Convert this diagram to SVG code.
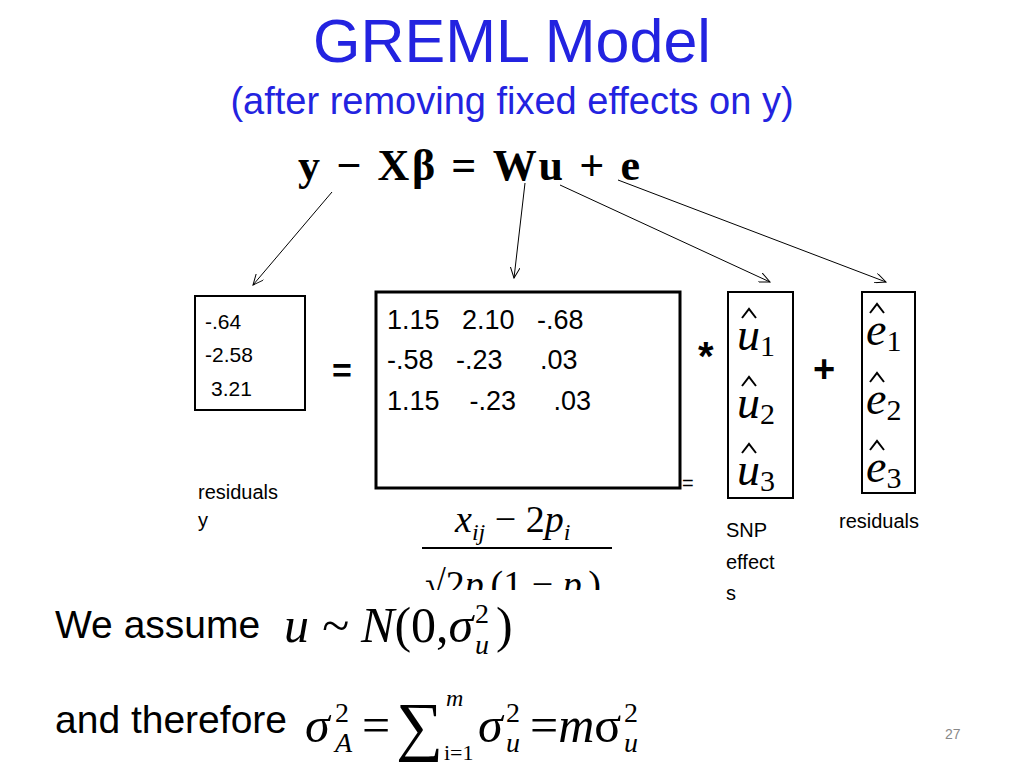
<svg xmlns="http://www.w3.org/2000/svg" width="1024" height="768" viewBox="0 0 1024 768">
<style>
.t{fill:#2323e0;font-family:"Liberation Sans",Arial,sans-serif;text-anchor:middle}
.s{font-family:"Liberation Sans",Arial,sans-serif;fill:#000}
.m{font-family:"Liberation Serif","Times New Roman",serif;font-style:italic;fill:#000}
.r{font-family:"Liberation Serif","Times New Roman",serif;fill:#000}
.box{fill:#fff;stroke:#000;stroke-width:2}
.hat{fill:none;stroke:#000;stroke-width:2}
.c line{stroke:#000;stroke-width:1;marker-end:url(#a)}
</style>
<defs><marker id="a" markerWidth="12" markerHeight="10" refX="11" refY="5" orient="auto" markerUnits="userSpaceOnUse"><path d="M0,0 L11,5 L0,10" fill="none" stroke="#000" stroke-width="1"/></marker></defs>
<rect width="1024" height="768" fill="#fff"/>
<text class="t" x="512" y="62" font-size="61">GREML Model</text>
<text class="t" x="512" y="114" font-size="38">(after removing fixed effects on y)</text>
<text class="r" x="298" y="180" font-size="44" font-weight="bold" textLength="342" lengthAdjust="spacing">y − Xβ = Wu + e</text>
<g class="c">
<line x1="332" y1="192" x2="253" y2="285"/>
<line x1="525" y1="183" x2="514" y2="278"/>
<line x1="560" y1="185" x2="770" y2="282"/>
<line x1="618" y1="180" x2="886" y2="282"/>
</g>
<g id="y">
<rect class="box" x="195" y="296" width="110" height="114"/>
<text class="s" x="205" y="329" font-size="21">-.64</text>
<text class="s" x="205" y="362" font-size="21">-2.58</text>
<text class="s" x="211" y="396" font-size="21">3.21</text>
<text class="s" x="198" y="499" font-size="20">residuals</text>
<text class="s" x="198" y="527" font-size="20">y</text>
</g>
<text class="s" x="332" y="382" font-size="34" font-weight="bold">=</text>
<g id="frac">
<text class="m" x="455" y="532" font-size="38">x<tspan font-size="24" dy="8">ij</tspan><tspan dy="-8" font-style="normal"> − 2</tspan>p<tspan font-size="24" dy="8">i</tspan></text>
<line x1="422" y1="548" x2="612" y2="548" stroke="#000" stroke-width="2"/>
<text class="m" x="425" y="597" font-size="38"><tspan font-style="normal">√2</tspan>p<tspan font-size="24" dy="8">i</tspan><tspan dy="-8" font-style="normal">(1 − </tspan>p<tspan font-size="24" dy="8">i</tspan><tspan dy="-8" font-style="normal">)</tspan></text>
<rect x="400" y="590" width="230" height="20" fill="#fff"/>
</g>
<g id="W">
<text class="s" x="682" y="490" font-size="20">=</text>
<rect x="376" y="292" width="304" height="196" fill="#fff" stroke="#000" stroke-width="3"/>
<text class="s" x="387" y="329" font-size="27" xml:space="preserve">1.15   2.10   -.68</text>
<text class="s" x="387" y="369" font-size="27" xml:space="preserve">-.58   -.23     .03</text>
<text class="s" x="387" y="410" font-size="27" xml:space="preserve">1.15    -.23     .03</text>
</g>
<text class="s" x="698" y="370" font-size="40" font-weight="bold">*</text>
<g id="u">
<rect class="box" x="728" y="292" width="65" height="206"/>
<text class="m" x="737" y="350" font-size="46">u<tspan font-style="normal" font-size="30" dy="6">1</tspan></text>
<text class="m" x="737" y="418" font-size="46">u<tspan font-style="normal" font-size="30" dy="6">2</tspan></text>
<text class="m" x="737" y="485" font-size="46">u<tspan font-style="normal" font-size="30" dy="6">3</tspan></text>
<path class="hat" d="M742,318 L749,309 L756,318 M742,386 L749,377 L756,386 M742,453 L749,444 L756,453"/>
<text class="s" x="726" y="537" font-size="20">SNP</text>
<text class="s" x="726" y="569" font-size="20">effect</text>
<text class="s" x="726" y="600" font-size="20">s</text>
</g>
<text class="s" x="813" y="382" font-size="38" font-weight="bold">+</text>
<g id="e">
<rect class="box" x="862" y="292" width="53" height="201"/>
<text class="m" x="866" y="345" font-size="46">e<tspan font-style="normal" font-size="30" dy="6">1</tspan></text>
<text class="m" x="866" y="414" font-size="46">e<tspan font-style="normal" font-size="30" dy="6">2</tspan></text>
<text class="m" x="866" y="482" font-size="46">e<tspan font-style="normal" font-size="30" dy="6">3</tspan></text>
<path class="hat" d="M870,313 L877,304 L884,313 M870,382 L877,373 L884,382 M870,450 L877,441 L884,450"/>
<text class="s" x="839" y="528" font-size="20">residuals</text>
</g>
<text class="s" x="55" y="638" font-size="39">We assume</text>
<text class="m" x="284" y="642" font-size="50">u ~ N<tspan font-style="normal">(0,</tspan>σ</text>
<text class="r" x="475" y="623" font-size="28">2</text>
<text class="m" x="475" y="654" font-size="28">u</text>
<text class="r" x="496" y="642" font-size="50">)</text>
<text class="s" x="55" y="733" font-size="39">and therefore</text>
<text class="m" x="305" y="742" font-size="50">σ</text>
<text class="r" x="335" y="722" font-size="28">2</text>
<text class="m" x="335" y="752" font-size="28">A</text>
<text class="r" x="362" y="742" font-size="50">=</text>
<text class="r" x="396" y="748" font-size="66">∑</text>
<text class="m" x="446" y="706" font-size="24">m</text>
<text class="r" x="444" y="760" font-size="22">i=1</text>
<text class="m" x="478" y="742" font-size="50">σ</text>
<text class="r" x="506" y="722" font-size="28">2</text>
<text class="m" x="506" y="752" font-size="28">u</text>
<text class="r" x="530" y="742" font-size="50">=<tspan font-style="italic">m</tspan>σ</text>
<text class="r" x="624" y="722" font-size="28">2</text>
<text class="m" x="624" y="752" font-size="28">u</text>
<text x="945" y="739" font-size="14" fill="#888" font-family="Liberation Sans,sans-serif">27</text>
</svg>
